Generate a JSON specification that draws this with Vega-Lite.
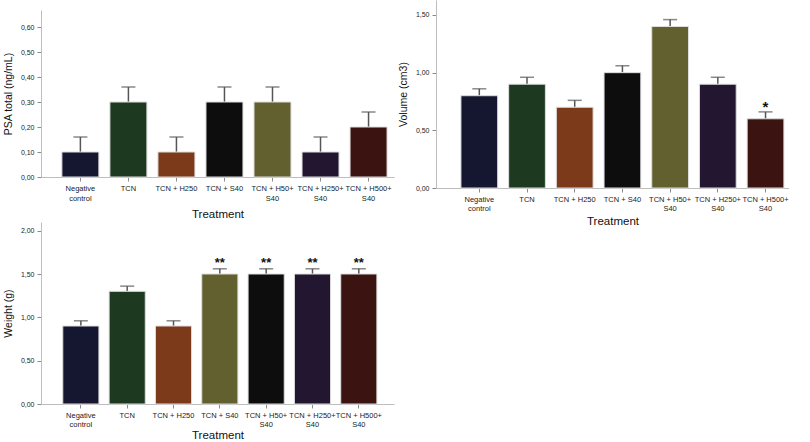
{
  "$schema": "https://vega.github.io/schema/vega-lite/v6.json",
  "padding": {"left": 3, "top": 0, "right": 0, "bottom": 0},
  "background": "white",
  "config": {
    "font": "Liberation Sans",
    "view": {"stroke": null},
    "axis": {
      "grid": false,
      "domainColor": "#bdbdbd",
      "tickColor": "#8a8a8a",
      "labelColor": "#222222",
      "titleColor": "#111111",
      "titleFontWeight": "normal",
      "labelFontSize": 7,
      "tickSize": 4
    },
    "axisX": {"labelAngle": 0, "labelFontSize": 7.5, "labelLineHeight": 10, "labelPadding": 3, "titleFontSize": 11.5},
    "axisY": {"titleFontSize": 10.5, "labelPadding": 3, "titlePadding": 7}
  },
  "datasets": {
    "psa": [
      {"treatment": "Negative control", "mean": 0.1, "upper": 0.16, "sig": ""},
      {"treatment": "TCN", "mean": 0.3, "upper": 0.36, "sig": ""},
      {"treatment": "TCN + H250", "mean": 0.1, "upper": 0.16, "sig": ""},
      {"treatment": "TCN + S40", "mean": 0.3, "upper": 0.36, "sig": ""},
      {"treatment": "TCN + H50+ S40", "mean": 0.3, "upper": 0.36, "sig": ""},
      {"treatment": "TCN + H250+ S40", "mean": 0.1, "upper": 0.16, "sig": ""},
      {"treatment": "TCN + H500+ S40", "mean": 0.2, "upper": 0.26, "sig": ""}
    ],
    "volume": [
      {"treatment": "Negative control", "mean": 0.8, "upper": 0.86, "sig": ""},
      {"treatment": "TCN", "mean": 0.9, "upper": 0.96, "sig": ""},
      {"treatment": "TCN + H250", "mean": 0.7, "upper": 0.76, "sig": ""},
      {"treatment": "TCN + S40", "mean": 1.0, "upper": 1.06, "sig": ""},
      {"treatment": "TCN + H50+ S40", "mean": 1.4, "upper": 1.46, "sig": ""},
      {"treatment": "TCN + H250+ S40", "mean": 0.9, "upper": 0.96, "sig": ""},
      {"treatment": "TCN + H500+ S40", "mean": 0.6, "upper": 0.66, "sig": "*"}
    ],
    "weight": [
      {"treatment": "Negative control", "mean": 0.9, "upper": 0.96, "sig": ""},
      {"treatment": "TCN", "mean": 1.3, "upper": 1.36, "sig": ""},
      {"treatment": "TCN + H250", "mean": 0.9, "upper": 0.96, "sig": ""},
      {"treatment": "TCN + S40", "mean": 1.5, "upper": 1.56, "sig": "**"},
      {"treatment": "TCN + H50+ S40", "mean": 1.5, "upper": 1.56, "sig": "**"},
      {"treatment": "TCN + H250+ S40", "mean": 1.5, "upper": 1.56, "sig": "**"},
      {"treatment": "TCN + H500+ S40", "mean": 1.5, "upper": 1.56, "sig": "**"}
    ]
  },
  "hconcat": [
    {
      "vconcat": [
        {
          "width": 353,
          "height": 177,
          "data": {"name": "psa"},
          "encoding": {
            "x": {
              "field": "treatment", "type": "nominal", "sort": null,
              "scale": {"paddingInner": 0.23, "paddingOuter": 0.29, "align": 0.75},
              "axis": {
                "title": "Treatment", "titlePadding": 7,
                "labelExpr": "indexof(datum.label, '+ S40') > 5 ? [slice(datum.label, 0, indexof(datum.label, ' S40')), 'S40'] : datum.label == 'Negative control' ? ['Negative', 'control'] : datum.label"
              }
            },
            "y": {
              "field": "mean", "type": "quantitative", "title": "PSA total (ng/mL)",
              "scale": {"domain": [0, 0.668], "range": [177, 10], "nice": false},
              "axis": {"values": [0, 0.1, 0.2, 0.3, 0.4, 0.5, 0.6], "labelExpr": "replace(format(datum.value, '.2f'), '.', ',')"}
            }
          },
          "layer": [
            {"mark": {"type": "rule", "color": "#555555", "strokeWidth": 1.5}, "encoding": {"y2": {"field": "upper"}}},
            {"mark": {"type": "tick", "color": "#555555", "thickness": 1.5, "size": 14}, "encoding": {"y": {"field": "upper", "type": "quantitative", "title": "PSA total (ng/mL)"}}},
            {
              "mark": {"type": "bar", "stroke": "#dddddd", "strokeWidth": 1},
              "encoding": {
                "color": {
                  "field": "treatment", "type": "nominal", "legend": null,
                  "scale": {
                    "domain": ["Negative control", "TCN", "TCN + H250", "TCN + S40", "TCN + H50+ S40", "TCN + H250+ S40", "TCN + H500+ S40"],
                    "range": ["#151730", "#1d3a20", "#7d3a1a", "#0d0d0d", "#62602f", "#231631", "#3b1311"]
                  }
                }
              }
            }
          ]
        },
        {
          "width": 353,
          "height": 182,
          "data": {"name": "weight"},
          "encoding": {
            "x": {
              "field": "treatment", "type": "nominal", "sort": null,
              "scale": {"paddingInner": 0.22, "paddingOuter": 0.42, "align": 0.56},
              "axis": {
                "title": "Treatment", "titlePadding": 2, "labelLineHeight": 9,
                "labelExpr": "indexof(datum.label, '+ S40') > 5 ? [slice(datum.label, 0, indexof(datum.label, ' S40')), 'S40'] : datum.label == 'Negative control' ? ['Negative', 'control'] : datum.label"
              }
            },
            "y": {
              "field": "mean", "type": "quantitative", "title": "Weight (g)",
              "scale": {"domain": [0, 2.1], "nice": false},
              "axis": {"values": [0, 0.5, 1, 1.5, 2], "labelExpr": "replace(format(datum.value, '.2f'), '.', ',')"}
            }
          },
          "layer": [
            {"mark": {"type": "rule", "color": "#555555", "strokeWidth": 1.5}, "encoding": {"y2": {"field": "upper"}}},
            {"mark": {"type": "tick", "color": "#555555", "thickness": 1.5, "size": 14}, "encoding": {"y": {"field": "upper", "type": "quantitative", "title": "Weight (g)"}}},
            {
              "mark": {"type": "bar", "stroke": "#dddddd", "strokeWidth": 1},
              "encoding": {
                "color": {
                  "field": "treatment", "type": "nominal", "legend": null,
                  "scale": {
                    "domain": ["Negative control", "TCN", "TCN + H250", "TCN + S40", "TCN + H50+ S40", "TCN + H250+ S40", "TCN + H500+ S40"],
                    "range": ["#151730", "#1d3a20", "#7d3a1a", "#62602f", "#0d0d0d", "#231631", "#3b1311"]
                  }
                }
              }
            },
            {
              "transform": [{"filter": "datum.sig != ''"}],
              "mark": {"type": "text", "fontSize": 13, "fontWeight": "bold", "color": "#111111", "baseline": "bottom", "dy": 1},
              "encoding": {"y": {"field": "upper", "type": "quantitative", "title": "Weight (g)"}, "text": {"field": "sig"}}
            }
          ]
        }
      ],
      "spacing": 2,
      "resolve": {"scale": {"color": "independent", "x": "independent", "y": "independent"}}
    },
    {
      "width": 353,
      "height": 188,
      "data": {"name": "volume"},
      "encoding": {
        "x": {
          "field": "treatment", "type": "nominal", "sort": null,
          "scale": {"paddingInner": 0.23, "paddingOuter": 0.315, "align": 0.83},
          "axis": {
            "title": "Treatment", "titlePadding": 3, "labelLineHeight": 9.5,
            "labelExpr": "indexof(datum.label, '+ S40') > 5 ? [slice(datum.label, 0, indexof(datum.label, ' S40')), 'S40'] : datum.label == 'Negative control' ? ['Negative', 'control'] : datum.label"
          }
        },
        "y": {
          "field": "mean", "type": "quantitative", "title": "Volume (cm3)",
          "scale": {"domain": [0, 1.63], "nice": false},
          "axis": {"values": [0, 0.5, 1, 1.5], "labelExpr": "replace(format(datum.value, '.2f'), '.', ',')"}
        }
      },
      "layer": [
        {"mark": {"type": "rule", "color": "#555555", "strokeWidth": 1.5}, "encoding": {"y2": {"field": "upper"}}},
        {"mark": {"type": "tick", "color": "#555555", "thickness": 1.5, "size": 14}, "encoding": {"y": {"field": "upper", "type": "quantitative", "title": "Volume (cm3)"}}},
        {
          "mark": {"type": "bar", "stroke": "#dddddd", "strokeWidth": 1},
          "encoding": {
            "color": {
              "field": "treatment", "type": "nominal", "legend": null,
              "scale": {
                "domain": ["Negative control", "TCN", "TCN + H250", "TCN + S40", "TCN + H50+ S40", "TCN + H250+ S40", "TCN + H500+ S40"],
                "range": ["#151730", "#1d3a20", "#7d3a1a", "#0d0d0d", "#62602f", "#231631", "#3b1311"]
              }
            }
          }
        },
        {
          "transform": [{"filter": "datum.sig != ''"}],
          "mark": {"type": "text", "fontSize": 15, "fontWeight": "bold", "color": "#111111", "baseline": "bottom", "dy": 3},
          "encoding": {"y": {"field": "upper", "type": "quantitative", "title": "Volume (cm3)"}, "text": {"field": "sig"}}
        }
      ]
    }
  ],
  "spacing": 4,
  "resolve": {"scale": {"color": "independent", "x": "independent", "y": "independent"}}
}
